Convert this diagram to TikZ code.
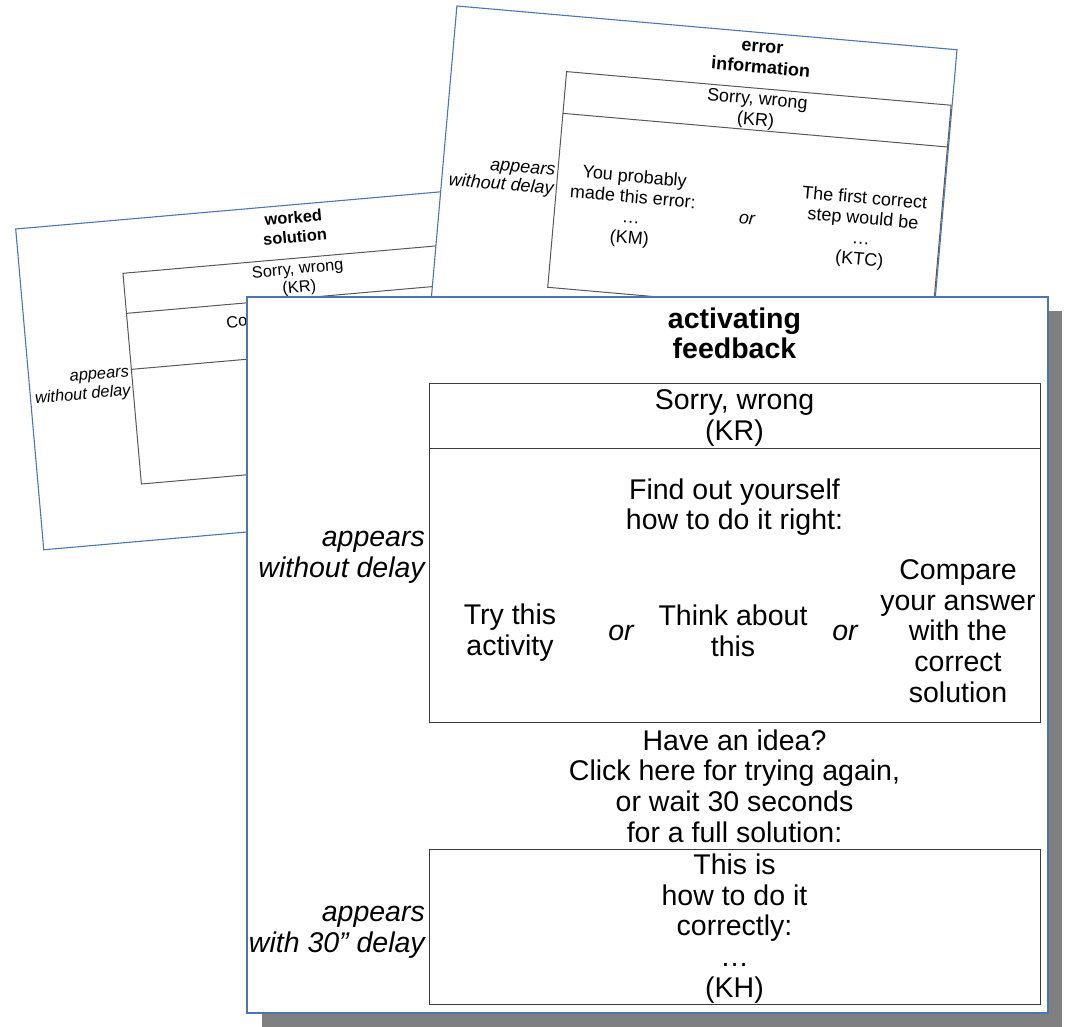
\documentclass[tikz,border=0pt]{standalone}
\usepackage{fontspec}
\setmainfont{Liberation Sans}
\definecolor{cardblue}{HTML}{4A76B8}
\definecolor{boxline}{HTML}{3A3A3A}
\definecolor{shadowgray}{HTML}{808080}
\tikzset{
  card/.style={draw=cardblue, line width=1.1pt, fill=white},
  box/.style={draw=boxline, line width=1pt},
  shadowbox/.style={fill=shadowgray, draw=none},
  bigtxt/.style={inner sep=0pt, align=center, font=\fontsize{28.5}{30.6}\selectfont},
  bigtitle/.style={bigtxt, font=\fontsize{28.5}{30.6}\selectfont\bfseries},
  bigit/.style={inner sep=0pt, align=right, anchor=east, font=\fontsize{28.5}{30.6}\selectfont\itshape},
  bigor/.style={inner sep=0pt, font=\fontsize{28.5}{30.6}\selectfont\itshape},
  midtxt/.style={inner sep=0pt, align=center, font=\fontsize{18}{20.5}\selectfont},
  midtitle/.style={midtxt, font=\fontsize{18}{20.7}\selectfont\bfseries},
  midit/.style={inner sep=0pt, align=right, anchor=east, font=\fontsize{18}{18.8}\selectfont\itshape},
  midor/.style={inner sep=0pt, font=\fontsize{18}{20.5}\selectfont\itshape},
  smltxt/.style={inner sep=0pt, align=center, font=\fontsize{16.4}{18.4}\selectfont},
  smltitle/.style={smltxt, font=\fontsize{16.4}{19.3}\selectfont\bfseries},
  smlit/.style={inner sep=0pt, align=right, anchor=east, font=\fontsize{16.4}{19}\selectfont\itshape},
}
\begin{document}
\begin{tikzpicture}[x=1pt, y=-1pt]
\useasboundingbox (0,0) rectangle (1068,1027);

% ---------- worked solution card (back left) ----------
\begin{scope}[shift={(15.7,229)}, rotate=5, transform shape]
  \draw[card] (0,0) rectangle (458,322);
  \draw[box, draw=boxline!85] (103,53.5) rectangle (452,265);
  \draw[box, draw=boxline!85] (103,93.7) -- (452,93.7);
  \draw[box, draw=boxline!85] (103,149.9) -- (452,149.9);
  \node[smltitle] (wtitle) at (277.5,22.5) {worked\\solution};
  \node[smltxt] (wkr) at (277.4,74.7) {Sorry, wrong\\(KR)};
  \node[smltxt] (wkcr) at (266,122) {Correct would be:\\(KCR)};
  \node[smlit] (wapp) at (100.5,163.5) {appears\\without delay};
\end{scope}

% ---------- error information card (back right) ----------
\begin{scope}[shift={(456.9,6)}, rotate=-5, transform shape]
  \draw[card] (0,0) rectangle (502,320);
  \draw[box, draw=boxline!85] (115,55.8) rectangle (501,272.3);
  \draw[box, draw=boxline!85] (115,97.7) -- (501,97.7);
  \node[midtitle] (etitle) at (308,25.5) {error\\information};
  \node[midtxt] (ekr) at (307.5,78) {Sorry, wrong\\(KR)};
  \node[midtxt] (ekm) at (192,186.5) {You probably\\made this error:\\…\\(KM)};
  \node[midor] (eor) at (307.5,187.5) {or};
  \node[midtxt] (ektc) at (423,187.5) {The first correct\\step would be\\…\\(KTC)};
  \node[midit] (eapp) at (112.5,167) {appears\\without delay};
\end{scope}

% ---------- activating feedback card (front) ----------
\fill[shadowbox] (262,311) rectangle (1062,1027);
\draw[card] (247,297) rectangle (1048,1013);
\draw[box] (429,383) rectangle (1040,722);
\draw[box] (429,448) -- (1040,448);
\draw[box] (429,849) rectangle (1040,1004);

\node[bigtitle] (ftitle) at (734.5,333.5) {activating\\feedback};
\node[bigtxt] (fkr) at (734.5,418) {Sorry, wrong\\(KR)};
\node[bigtxt] (ffind) at (734.5,507) {Find out yourself\\how to do it right:};
\node[bigtxt] (ftry) at (510,632.5) {Try this\\activity};
\node[bigor] (for1) at (621,632.5) {or};
\node[bigtxt] (fthink) at (733,631) {Think about\\this};
\node[bigor] (for2) at (845,632.5) {or};
\node[bigtxt] (fcomp) at (958,631) {Compare\\your answer\\with the\\correct\\solution};
\node[bigit] (fapp1) at (425,557.5) {appears\\without delay};
\node[bigtxt] (fidea) at (734.5,786) {Have an idea?\\Click here for trying again,\\or wait 30 seconds\\for a full solution:};
\node[bigit] (fapp2) at (425,932) {appears\\with 30” delay};
\node[bigtxt] (fkh) at (734.5,928.5) {This is\\how to do it\\correctly:\\…\\(KH)};
\end{tikzpicture}
\end{document}
